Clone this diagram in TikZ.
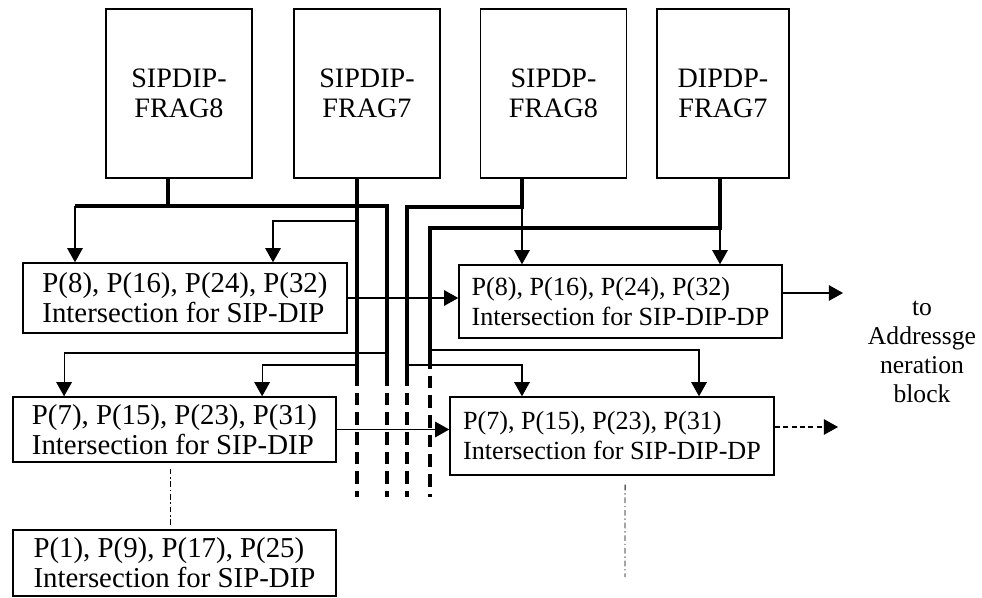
\documentclass[tikz,border=0pt]{standalone}
\usepackage{fontspec}
\setmainfont{Liberation Serif}
\usetikzlibrary{arrows.meta}

\tikzset{
  frag/.style={draw, line width=1pt, minimum width=3.65cm, minimum height=4.225cm, inner sep=0pt, align=center, font=\fontsize{20}{21.3}\selectfont},
  isect/.style={draw, line width=1pt, minimum width=8.1cm, inner sep=0pt, align=left, font=\fontsize{20.5}{21.3}\selectfont},
  isectdp/.style={isect, font=\fontsize{18.6}{21.3}\selectfont},
  bus/.style={line width=2.6pt},
  busdash/.style={line width=2.6pt, dash pattern=on 9pt off 5pt},
  feed/.style={line width=0.8pt, -{Triangle[length=10pt,width=11pt]}},
  dashdot/.style={line width=0.7pt, dash pattern=on 4pt off 2pt on 1pt off 2pt}
}

\begin{document}
\begin{tikzpicture}[x=0.025cm, y=-0.025cm]
  \useasboundingbox (0,0) rectangle (982,598);

  %%%%% fragment tables %%%%%
  \node[frag] (sd8) at (179,93.5) {SIPDIP-\\FRAG8};
  \node[frag] (sd7) at (367,93.5) {SIPDIP-\\FRAG7};
  \node[frag] (sp8) at (553.5,93.5) {SIPDP-\\FRAG8};
  \node[frag, minimum width=3.3cm] (dp7) at (723,93.5) {DIPDP-\\FRAG7};

  %%%%% intersection blocks %%%%%
  \node[isect, minimum height=1.75cm] (i8) at (185,298) {P(8), P(16), P(24), P(32)\\ Intersection for SIP-DIP};
  \node[isect, minimum width=8.075cm, minimum height=1.625cm] (i7) at (174.5,429.5) {P(7), P(15), P(23), P(31)\\ Intersection for SIP-DIP};
  \node[isect, minimum width=8.075cm, minimum height=1.65cm] (i1) at (174.5,563) {P(1), P(9), P(17), P(25)\\ Intersection for SIP-DIP};
  \node[isectdp, minimum width=8.075cm, minimum height=1.825cm] (t8) at (620.5,301.5) {P(8), P(16), P(24), P(32)\\Intersection for SIP-DIP-DP};
  \node[isectdp, minimum height=1.95cm] (t7) at (612,436) {P(7), P(15), P(23), P(31)\\Intersection for SIP-DIP-DP};

  \node[font=\fontsize{18.2}{20.8}\selectfont, align=center] (blk) at (922,352) {to\\Addressge\\neration\\block};

  %%%%% bus lines %%%%%
  \coordinate (s1) at (168,206);
  \coordinate (a1) at (75,206);
  \coordinate (k1) at (387,206);
  \coordinate (s3) at (522,207);
  \coordinate (k3) at (407,207);
  \coordinate (s4) at (720,228);
  \coordinate (k4) at (430,228);
  \coordinate (v1) at (357,373);
  \coordinate (v2) at (387,373);
  \coordinate (v3) at (407,373);
  \coordinate (v4) at (430,356);
  \coordinate (e) at (0,497);

  \draw[bus] (sd8.south -| s1) -- (s1);
  \draw[bus] (a1) -- (k1) -- (v2);
  \draw[bus] (sd7.south -| v1) -- (v1);
  \draw[bus] (sp8.south -| s3) -- (s3) -- (k3) -- (v3);
  \draw[bus] (dp7.south -| s4) -- (s4) -- (k4) -- (v4);
  \foreach \v in {v1,v2,v3,v4}
    \draw[busdash] (\v) -- (\v |- e);

  %%%%% taps into the blocks %%%%%
  \coordinate (q1) at (357,221);
  \coordinate (q2) at (387,353);
  \coordinate (q3) at (357,365);
  \coordinate (q4) at (430,350);
  \coordinate (q5) at (407,365);

  \draw[feed] (a1) -- (a1 |- i8.north);
  \draw[feed] (q1) -| ([xshift=2.2cm]i8.north);
  \draw[feed] (q2) -| ([xshift=-2.76cm]i7.north);
  \draw[feed] (q3) -| ([xshift=2.19cm]i7.north);
  \draw[feed] (s3) -- (s3 |- t8.north);
  \draw[feed] (s4) -- (s4 |- t8.north);
  \draw[feed] (q4) -| ([xshift=2.175cm]t7.north);
  \draw[feed] (q5) -| ([xshift=-2.25cm]t7.north);

  \draw[feed] (i8.east) -- (i8.east -| t8.west);
  \draw[feed] (i7.east) -- (i7.east -| t7.west);

  %%%%% outputs %%%%%
  \coordinate (o1) at (843,293);
  \coordinate (o2) at (838,427);
  \draw[feed] (t8.east |- o1) -- (o1);
  \draw[feed, dash pattern=on 3.5pt off 2.5pt] (t7.east |- o2) -- (o2);

  \coordinate (d2) at (625,577);
  \draw[dashdot] ([xshift=-0.11cm,yshift=-0.15cm]i7.south) -- ([xshift=-0.11cm,yshift=0.075cm]i1.north);
  \draw[dashdot] ([xshift=0.325cm,yshift=-0.225cm]t7.south) -- (d2);
\end{tikzpicture}
\end{document}
